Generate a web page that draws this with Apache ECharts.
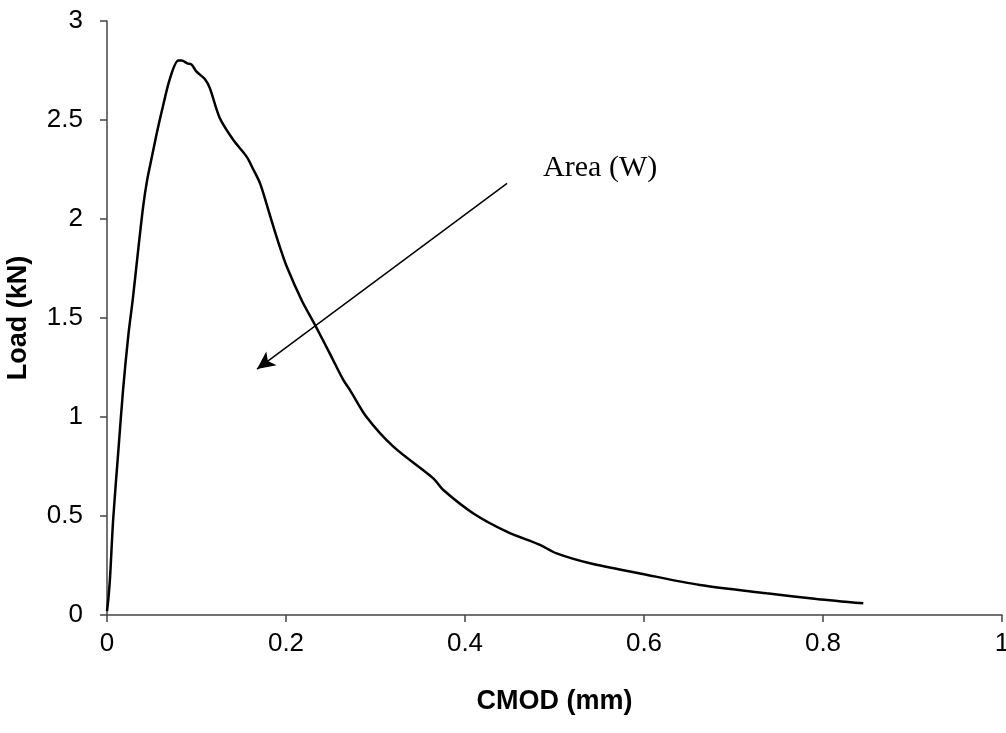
<!DOCTYPE html>
<html>
<head>
<meta charset="utf-8">
<title>Load vs CMOD</title>
<script src="https://cdn.jsdelivr.net/npm/echarts@6/dist/echarts.min.js"></script>
<style>
  html, body { margin: 0; padding: 0; background: #fff; }
  #container { width: 1006px; height: 733px; }
</style>
</head>
<body>
<div id="container"></div>
<script>
// CMOD (mm)
var cmod = [0, 0.0015, 0.0034, 0.007, 0.0127, 0.018, 0.024, 0.0287, 0.035, 0.0406, 0.045, 0.050,
	0.055, 0.061, 0.0704, 0.0797, 0.0834, 0.0897, 0.0946, 0.100, 0.1095, 0.115, 0.126,
	0.141, 0.156, 0.1635, 0.171, 0.178, 0.186, 0.193, 0.2008, 0.2175, 0.2324,
	0.249, 0.264, 0.2715, 0.290, 0.320, 0.3646, 0.3758, 0.409, 0.4466, 0.4838,
	0.5024, 0.5397, 0.5955, 0.6626, 0.737, 0.793, 0.845];
// Load (kN)
var load = [0.02, 0.08, 0.19, 0.49, 0.83, 1.14, 1.42, 1.59, 1.85, 2.07, 2.2, 2.31,
	2.42, 2.54, 2.71, 2.80, 2.80, 2.786, 2.78, 2.744, 2.706, 2.66, 2.51,
	2.40, 2.315, 2.25, 2.18, 2.08, 1.96, 1.86, 1.76, 1.59, 1.465,
	1.32, 1.187, 1.136, 1.00, 0.85, 0.69, 0.631, 0.514, 0.421, 0.354,
	0.311, 0.261, 0.21, 0.1515, 0.11, 0.081, 0.059];
var xTicks = { min: 0, max: 1, interval: 0.2 };
var yTicks = { min: 0, max: 3, interval: 0.5 };
// annotation: arrow start / end and label point, in data units
var arrowFrom = [0.447, 2.18];
var arrowTo = [0.1676, 1.242];
var noteAt = [0.551, 2.258];
var noteText = 'Area (W)';

var points = [];
for (var i = 0; i < cmod.length; i++) {
	points.push([cmod[i], load[i]]);
}

var chart = echarts.init(document.getElementById('container'));

var axisCommon = {
	axisLine: { show: true, lineStyle: { color: '#444', width: 1.5 } },
	axisTick: { show: true, inside: false, length: 7, lineStyle: { color: '#444', width: 1.5 } },
	splitLine: { show: false },
	nameLocation: 'middle',
	nameTextStyle: { fontFamily: 'Liberation Sans', fontWeight: 'bold', fontSize: 27, color: '#000' }
};

var option = {
	animation: false,
	backgroundColor: '#fff',
	grid: { left: 107, right: 4, top: 21, bottom: 118, outerBoundsMode: 'none' },
	xAxis: Object.assign({}, axisCommon, {
		type: 'value',
		min: xTicks.min, max: xTicks.max, interval: xTicks.interval,
		name: 'CMOD (mm)',
		nameGap: 73,
		axisLabel: { margin: 16, fontFamily: 'Liberation Sans', fontSize: 26, color: '#000' }
	}),
	yAxis: Object.assign({}, axisCommon, {
		type: 'value',
		min: yTicks.min, max: yTicks.max, interval: yTicks.interval,
		name: 'Load (kN)',
		nameGap: 75,
		axisLabel: { margin: 24, fontFamily: 'Liberation Sans', fontSize: 26, color: '#000' }
	}),
	series: [{
		type: 'line',
		data: points,
		showSymbol: false,
		smooth: 0.3,
		lineStyle: { color: '#000', width: 2.5 },
		silent: true,
		markLine: {
			silent: true,
			symbol: ['none', 'arrow'],
			symbolSize: [13, 18],
			label: { show: false },
			lineStyle: { color: '#000', width: 1.5, type: 'solid' },
			data: [[{ coord: arrowFrom }, { coord: arrowTo }]]
		},
		markPoint: {
			silent: true,
			symbol: 'circle',
			symbolSize: 0,
			label: {
				show: true, position: 'inside', formatter: noteText,
				fontFamily: 'Liberation Serif', fontSize: 30, color: '#000'
			},
			data: [{ coord: noteAt }]
		}
	}]
};

chart.setOption(option);
window.addEventListener('resize', function () {
	chart.resize();
});
</script>
</body>
</html>
